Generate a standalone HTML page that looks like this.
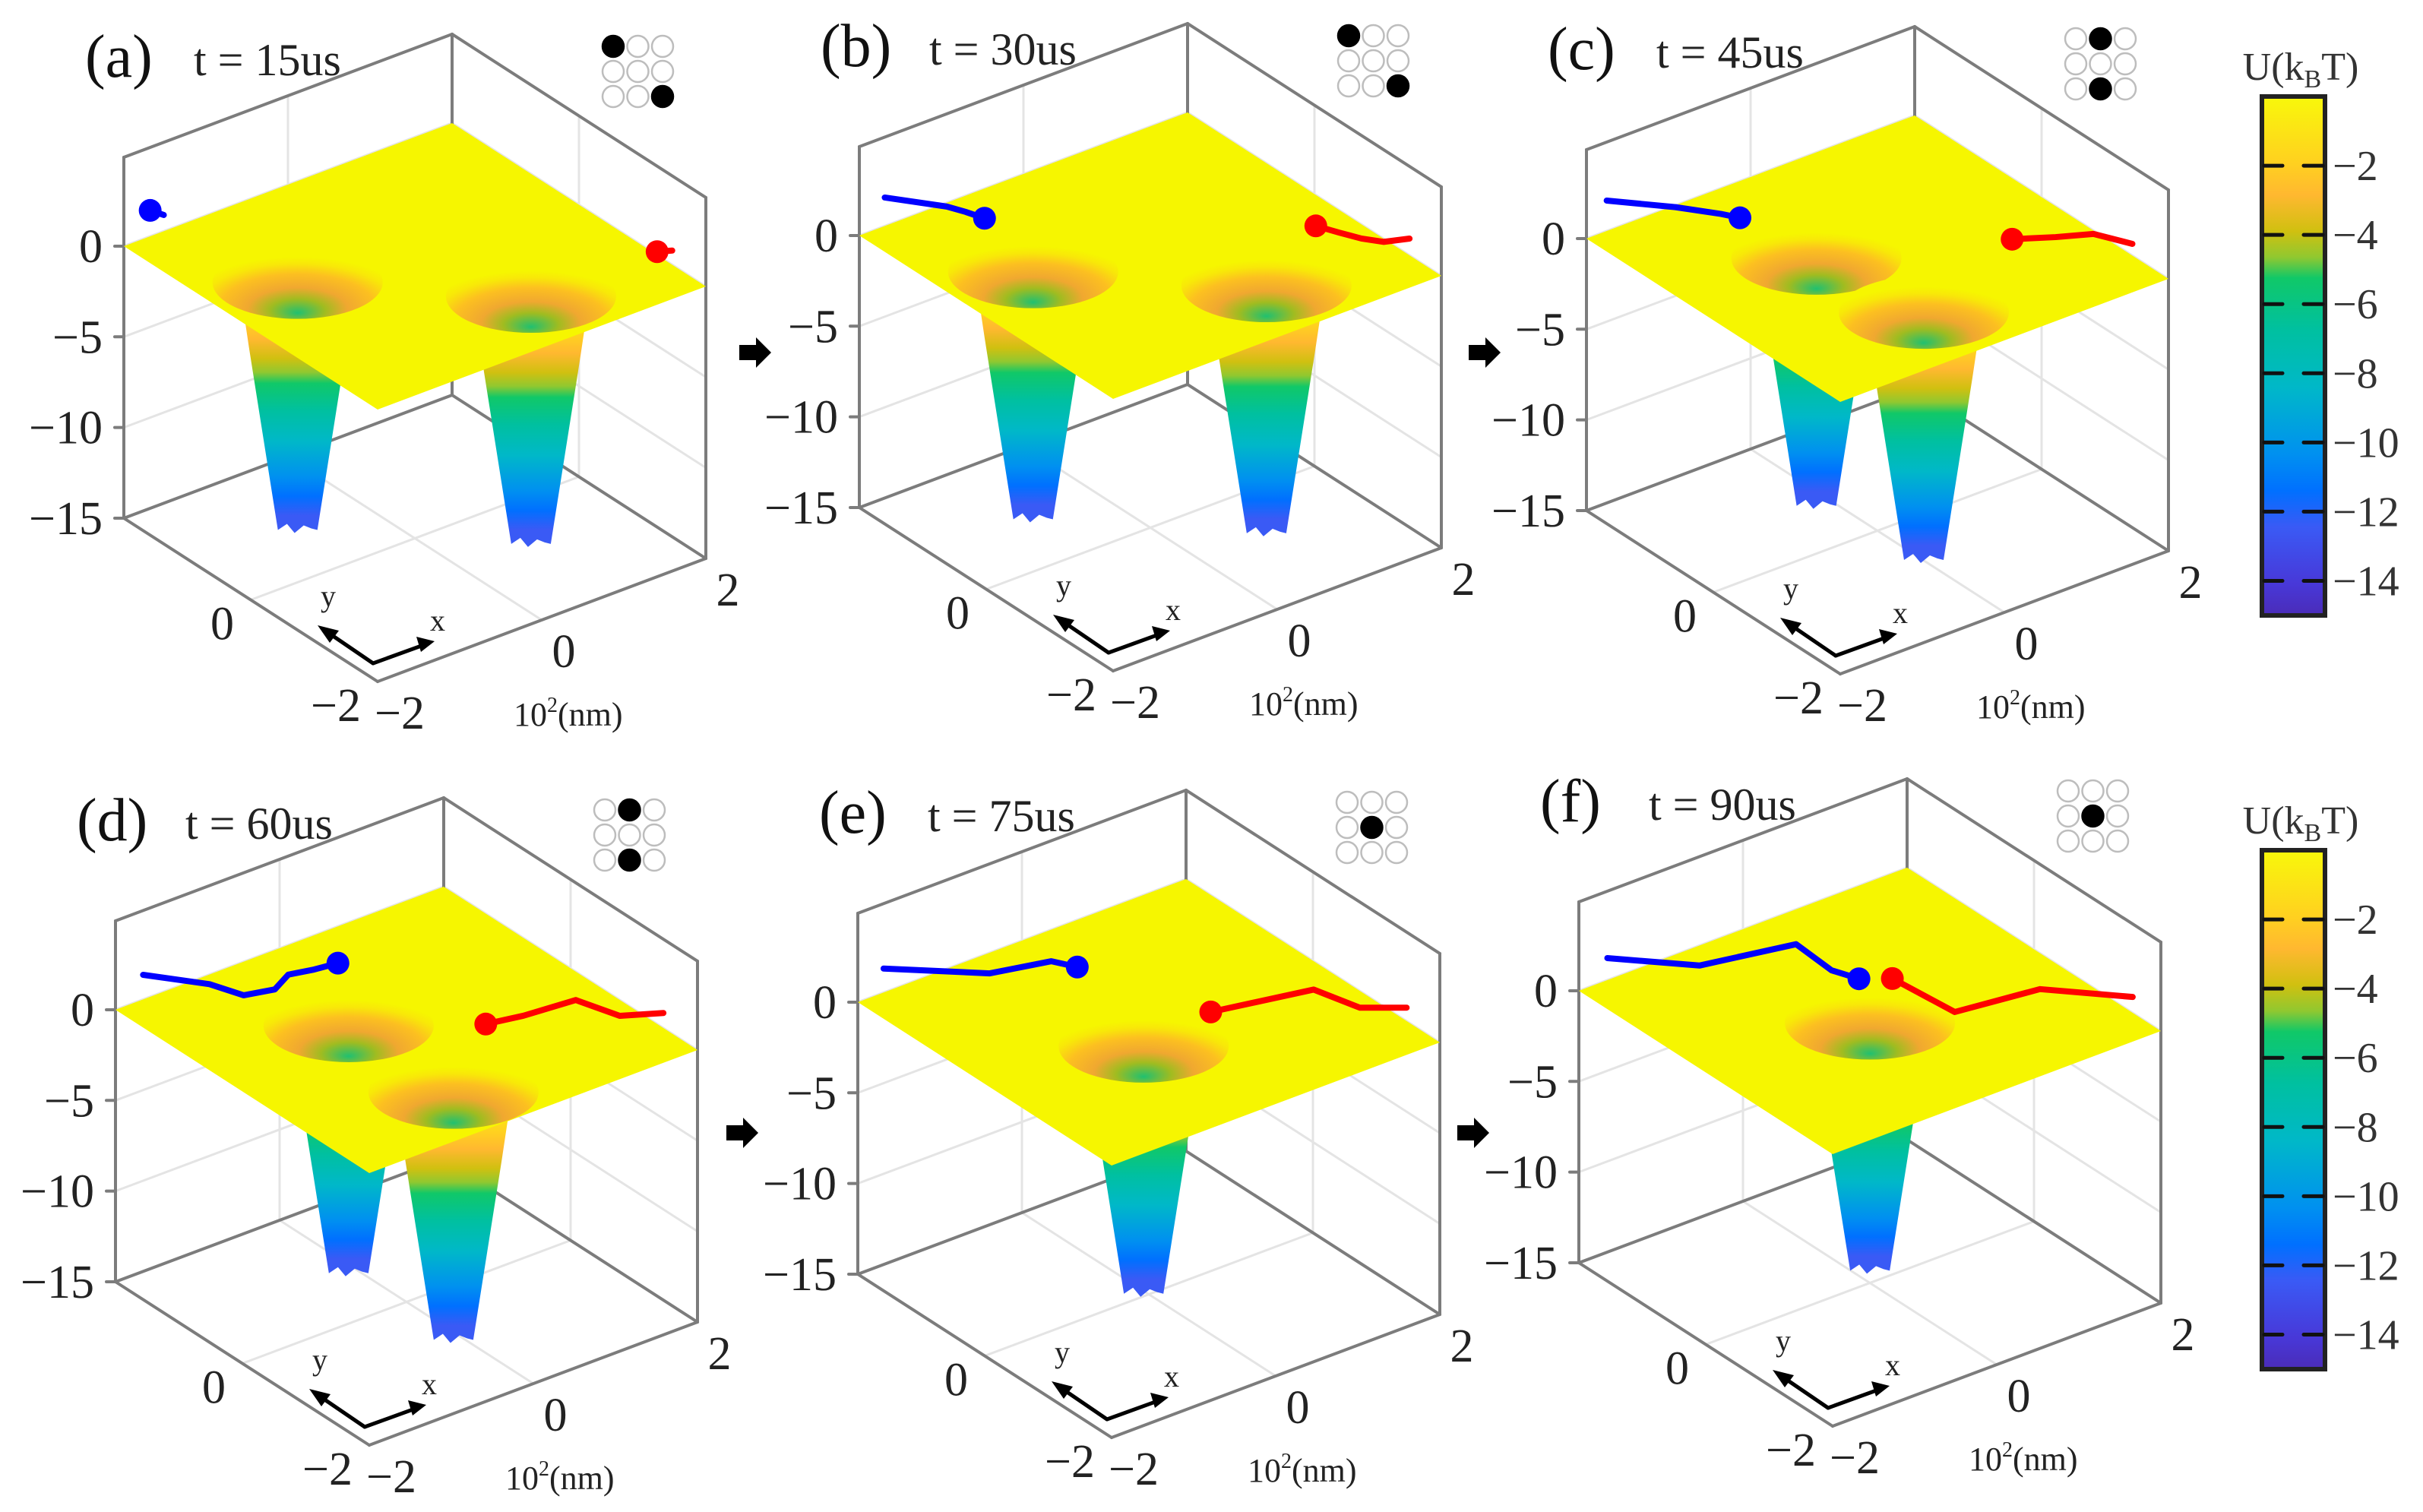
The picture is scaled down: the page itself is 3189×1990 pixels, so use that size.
<!DOCTYPE html>
<html><head><meta charset="utf-8"><title>Potential wells</title>
<style>
html,body{margin:0;padding:0;background:#fff;}
svg{display:block;font-family:"Liberation Serif",serif;}
</style></head>
<body>
<svg id="fig" xmlns="http://www.w3.org/2000/svg" width="3189" height="1990" viewBox="0 0 3189 1990">
<defs>
<linearGradient id="cbGrad" x1="0" y1="0" x2="0" y2="1"></linearGradient>
<linearGradient id="tubeGrad" x1="0" y1="0" x2="0" y2="1"></linearGradient>
<radialGradient id="bowlGrad" cx="0.5" cy="0.8" r="0.65" fx="0.5" fy="0.92">
<stop offset="0" stop-color="#20c070"/>
<stop offset="0.25" stop-color="#a0bc20"/>
<stop offset="0.45" stop-color="#f0a830"/>
<stop offset="0.7" stop-color="#fcc020"/>
<stop offset="0.88" stop-color="#f8e808"/>
<stop offset="1" stop-color="#f6f600"/>
</radialGradient>
</defs>
</svg>
<script>
// ---- data ----
const panelLetters = ["a","b","c","d","e","f"];
const panelTimes = [15,30,45,60,75,90];
const wellX = [[-1.15,0.48],[-1.15,0.48],[-0.52,-0.34],[-0.45,-0.44],[-0.38],[-0.20]];
const wellY = [[0.36,-1.21],[0.36,-1.21],[0.29,-1.17],[0.33,-1.31],[-0.41],[-0.26]];
const wellDepth = -13.4;
const blueX = [[-1.32,-1.37],[-1.35,-0.98,-0.90,-0.83],[-1.39,-0.94,-0.67,-0.57],[-1.37,-0.97,-0.84,-0.53,-0.25,0.01,0.27],[-1.40,-0.64,-0.02,0.11],[-1.39,-0.77,0.23,0.19,0.30]];
const blueY = [[2.25,2.40],[2.44,1.94,1.75,1.54],[2.47,1.97,1.60,1.43],[2.38,1.85,1.48,1.39,1.54,1.47,1.43],[2.37,1.68,1.51,1.27],[2.34,1.69,1.46,0.85,0.56]];
const redX = [[2.04,2.17],[1.63,1.73,1.83,1.96,2.20],[1.27,1.63,1.96,2.14],[0.68,1.07,1.66,1.81,2.18],[0.60,1.66,1.80,2.16],[0.56,0.64,1.57,2.19]];
const redY = [[-1.18,-1.25],[-0.50,-0.74,-0.96,-1.14,-1.24],[-0.48,-0.70,-0.87,-1.25],[-0.37,-0.46,-0.52,-1.02,-1.23],[-0.20,-0.45,-1.00,-1.27],[0.37,-0.51,-0.65,-1.31]];
const filledDots = [[0,8],[0,8],[1,7],[1,7],[4],[4]];
const zTicks = [0,-5,-10,-15];
const zTickLabels = ["0","\u22125","\u221210","\u221215"];
const yTicks = [0,-2];
const yTickLabels = ["0","\u22122"];
const xTicks = [-2,0,2];
const xTickLabels = ["\u22122","0","2"];
const cbTicks = [2,4,6,8,10,12,14];
const cbTickLabels = ["\u22122","\u22124","\u22126","\u22128","\u221210","\u221212","\u221214"];
const cmapPos = [0,0.13,0.19,0.26,0.31,0.35,0.45,0.56,0.69,0.76,0.83,0.94,1];
const cmapCol = ["#f8f80a","#ffd020","#ffb830","#d0c010","#90c830","#10c868","#00c0a0","#00b8c8","#0090f0","#0070ff","#3a5af5","#4838d8","#4a2cb8"];

// ---- layout ----
const panelDX = [0,968,1925,-11,966,1915];
const panelDY = [0,-14,-10,1005,995,980];
const F0 = [497,897], EX = [108,-40.5], EY = [-83.5,-53.75], ZS = 23.87, ZTOP = 4.9;
function P(x,y,z){return [F0[0]+(x+2)*EX[0]+(y+2)*EY[0], F0[1]+(x+2)*EX[1]+(y+2)*EY[1]-(z+15)*ZS];}
const NS="http://www.w3.org/2000/svg";
const svg=document.getElementById('fig');
function mk(tag,attrs,parent){const e=document.createElementNS(NS,tag);for(const k in attrs)e.setAttribute(k,attrs[k]);(parent||svg).appendChild(e);return e;}
function line(a,b,st,w,parent){return mk('line',{x1:a[0],y1:a[1],x2:b[0],y2:b[1],stroke:st,'stroke-width':w,'stroke-linecap':'round'},parent);}

const cbg=document.getElementById('cbGrad');
cmapPos.forEach((p,i)=>mk('stop',{offset:p,'stop-color':cmapCol[i]},cbg));
const tg=document.getElementById('tubeGrad');
cmapPos.forEach((p,i)=>{const t=p*15/Math.abs(wellDepth);if(t<=1.05)mk('stop',{offset:Math.min(t,1),'stop-color':cmapCol[i]},tg);});

for(let k=0;k<6;k++){
  const g=mk('g',{transform:`translate(${panelDX[k]},${panelDY[k]})`});
  
  
  const grid='#e4e4e4', ax='#7c7c7c';
  zTicks.slice(0,3).forEach(z=>{
    const gl=line(P(-2,2,z),P(2,2,z),grid,3,g);
    
    
    const gr=line(P(2,2,z),P(2,-2,z),grid,3,g);
    
    
  });
  line(P(0,2,-15),P(0,2,ZTOP),grid,3,g);
  line(P(2,0,-15),P(2,0,ZTOP),grid,3,g);
  line(P(0,-2,-15),P(0,2,-15),grid,3,g);
  line(P(-2,0,-15),P(2,0,-15),grid,3,g);
  const L=[-2,2],B=[2,2],R=[2,-2],Fc=[-2,-2];
  [[L,B],[B,R],[R,Fc],[Fc,L]].forEach(e=>{const l=line(P(e[0][0],e[0][1],-15),P(e[1][0],e[1][1],-15),ax,4,g);});
  [L,B,R].forEach(c=>line(P(c[0],c[1],-15),P(c[0],c[1],ZTOP),ax,4,g));
  line(P(-2,2,ZTOP),P(2,2,ZTOP),ax,4,g);
  line(P(2,2,ZTOP),P(2,-2,ZTOP),ax,4,g);
  zTicks.forEach((z,i)=>{
    const p=P(-2,2,z);
    line([p[0]-12,p[1]],[p[0],p[1]],ax,4,g);
    const t=mk('text',{x:p[0]-28,y:p[1]+21,'font-size':62,'text-anchor':'end',fill:'#222'},g);
    t.textContent=zTickLabels[i];
    
    
  });
  yTicks.forEach((y,i)=>{
    const p=P(-2,y,-15);
    const t=mk('text',{x:p[0]-22,y:p[1]+52,'font-size':62,'text-anchor':'end',fill:'#222'},g);
    t.textContent=yTickLabels[i];
    
    
  });
  xTicks.forEach((x,i)=>{
    const p=P(x,-2,-15);
    const t=mk('text',{x:p[0]+29,y:p[1]+62,'font-size':62,'text-anchor':'middle',fill:'#222'},g);
    t.textContent=xTickLabels[i];
    
    
  });
  const unit=mk('text',{x:676,y:955,'font-size':44,fill:'#222'},g);
  unit.innerHTML='10<tspan dy="-18" font-size="28">2</tspan><tspan dy="18">(nm)</tspan>';
  
  
  wellX[k].forEach((wx,i)=>{
    const c=P(wx,wellY[k][i],0), b=P(wx,wellY[k][i],wellDepth);
    const cx=c[0], cy=c[1], by=b[1];
    const d=`M${cx-76},${cy} L${cx-64},${cy+80} L${cx-26},${by} L${cx-14},${by-8} L${cx-4},${by+4} L${cx+8},${by-6} L${cx+18},${by-2} L${cx+26},${by} L${cx+64},${cy+80} L${cx+76},${cy} Z`;
    const tube=mk('path',{d:d,fill:'url(#tubeGrad)'},g);
    
    
  });
  const pts=[P(-2,-2,0),P(2,-2,0),P(2,2,0),P(-2,2,0)].map(p=>p.join(',')).join(' ');
  const plane=mk('polygon',{points:pts,fill:'#f6f600'},g);
  
  
  wellX[k].forEach((wx,i)=>{
    const c=P(wx,wellY[k][i],0);
    const bowl=mk('ellipse',{cx:c[0],cy:c[1]-6,rx:112,ry:48,fill:'url(#bowlGrad)'},g);
    
    
  });
  [[blueX,blueY,'#0000ff','blue'],[redX,redY,'#ff0000','red']].forEach(s=>{
    const xs=s[0][k], ys=s[1][k];
    const pp=xs.map((x,i)=>P(x,ys[i],0));
    const pl=mk('polyline',{points:pp.map(p=>p.join(',')).join(' '),fill:'none',stroke:s[2],'stroke-width':8,'stroke-linejoin':'round','stroke-linecap':'round'},g);
    
    
    const endIdx = s[3]==='blue'? pp.length-1 : 0;
    const dot=mk('circle',{cx:pp[endIdx][0],cy:pp[endIdx][1],r:15,fill:s[2]},g);
    
    
  });
  const o=[491,873];
  line(o,[428,830],'#000',5,g);
  line(o,[560,848],'#000',5,g);
  mk('polygon',{points:'418,823 446,830 434,846',fill:'#000'},g);
  mk('polygon',{points:'572,844 548,838 554,858',fill:'#000'},g);
  const ly=mk('text',{x:422,y:798,'font-size':40,fill:'#222'},g); ly.textContent='y';
  
  
  const lx=mk('text',{x:566,y:830,'font-size':40,fill:'#222'},g); lx.textContent='x';
  
  
  const tl=mk('text',{x:112,y:101,'font-size':80,fill:'#111'},g);
  tl.textContent='('+panelLetters[k]+')';
  
  
  const tt=mk('text',{x:255,y:99,'font-size':60,fill:'#222'},g);
  tt.textContent='t = '+panelTimes[k]+'us';
  
  
  for(let j=0;j<9;j++){
    const filled=filledDots[k].indexOf(j)>=0;
    const c=mk('circle',{cx:807+(j%3)*32.5,cy:61+Math.floor(j/3)*33,r:14,fill:filled?'#000':'none',stroke:filled?'#000':'#bdbdbd','stroke-width':2.5},g);
    
    
  }
}
[[993,464],[1953,464],[976,1491],[1938,1491]].forEach(a=>{
  const ar=mk('polygon',{points:`${a[0]-20},${a[1]-10} ${a[0]+2},${a[1]-10} ${a[0]+2},${a[1]-20} ${a[0]+22},${a[1]} ${a[0]+2},${a[1]+20} ${a[0]+2},${a[1]+10} ${a[0]-20},${a[1]+10}`,fill:'#000'});
  
  
});
[0,992].forEach(off=>{
  const top=127+off, bot=810+off;
  const r=mk('rect',{x:2977,y:top,width:83,height:bot-top,fill:'url(#cbGrad)',stroke:'#222','stroke-width':6});
  
  
  const title=mk('text',{x:3028,y:105+off,'font-size':52,'text-anchor':'middle',fill:'#333'});
  title.innerHTML='U(k<tspan font-size="34" dy="10">B</tspan><tspan dy="-10">T)</tspan>';
  
  
  cbTicks.forEach((v,i)=>{
    const y=top+(v/15)*(bot-top);
    line([2980,y],[3004,y],'#111',5);
    line([3032,y],[3057,y],'#111',5);
    const t=mk('text',{x:3070,y:y+19,'font-size':56,fill:'#333'});
    t.textContent=cbTickLabels[i];
    
    
  });
});
</script>
</body></html>
